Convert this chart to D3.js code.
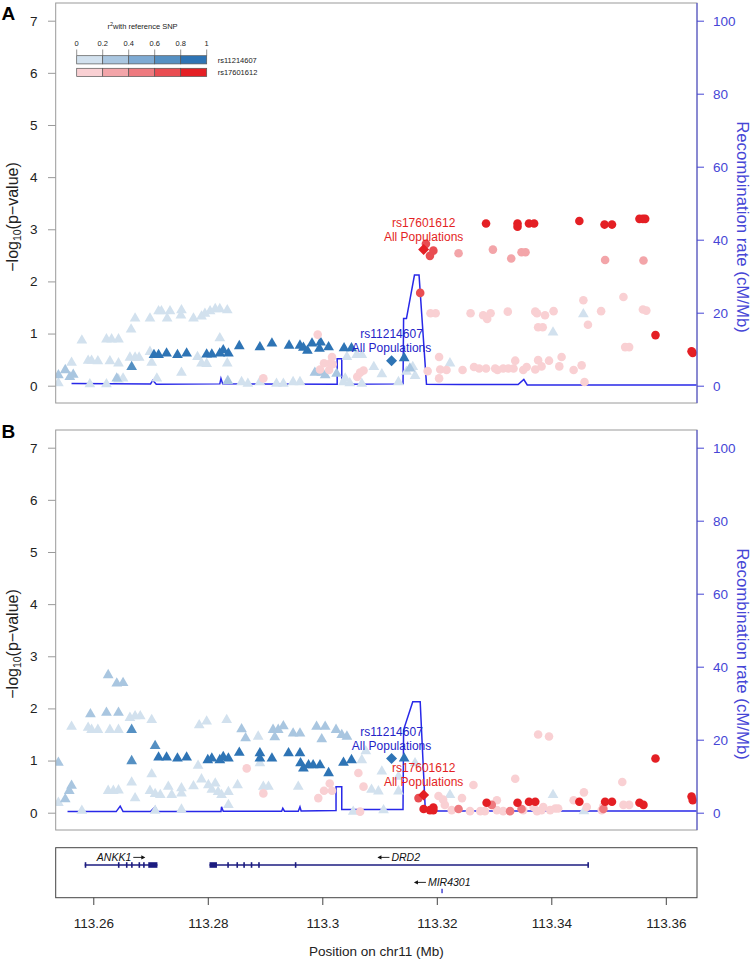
<!DOCTYPE html>
<html><head><meta charset="utf-8">
<script src="https://cdn.jsdelivr.net/npm/d3@7"></script>
<style>body{margin:0;background:#fff}svg{display:block}text{font-family:"Liberation Sans",Arial,Helvetica,sans-serif}</style>
</head><body><svg id="c" width="752" height="960"></svg>
<script>
// ---------- data ----------
const xTicks = [113.26, 113.28, 113.3, 113.32, 113.34, 113.36];
const yTicks = [0, 1, 2, 3, 4, 5, 6, 7];
const recTicks = [0, 20, 40, 60, 80, 100];
const r2Labels = ["0", "0.2", "0.4", "0.6", "0.8", "1"];
const blueShades = ["#d2e1ee", "#a9c6e0", "#7eaad3", "#5590c3", "#2e74b5"];
const redShades = ["#f9d0d3", "#f3a5a9", "#ee7a7f", "#e94d52", "#e41f24"];
const refNames = ["rs11214607", "rs17601612"];
const refPos = [113.3121, 113.3177];
const refValA = [0.48, 2.61];
const refValB = [1.04, 0.34];

// Panel A, rs11214607 (triangles): [position Mb, -log10 p, r2 bin]
const aTri = [
[113.2580,0.87,0],[113.2623,0.89,0],[113.2632,0.89,0],[113.2644,0.89,0],[113.2673,1.29,0],[113.2666,1.08,0],[113.2699,1.29,0],[113.2714,1.43,0],[113.2719,1.43,0],[113.2734,1.43,0],[113.2729,1.29,0],[113.2754,1.45,0],[113.2753,1.35,0],[113.2775,1.29,0],[113.2789,1.33,0],[113.2795,1.38,0],[113.2804,1.43,0],[113.2813,1.47,0],[113.2821,1.47,0],[113.2834,1.45,0],[113.2821,0.91,0],[113.2591,0.48,0],[113.2597,0.48,0],[113.2608,0.47,0],[113.2562,0.44,0],[113.2629,0.47,0],[113.2644,0.43,0],[113.2664,0.54,0],[113.2673,0.54,0],[113.2680,0.54,0],[113.2702,0.44,0],[113.2699,0.65,0],[113.2754,0.25,0],[113.2782,0.55,0],[113.2789,0.43,0],[113.2798,0.42,0],[113.2834,0.43,0],[113.2711,0.14,0],[113.2594,0.03,0],[113.2623,0.03,0],[113.2644,0.12,0],[113.2652,0.14,0],[113.2539,0.05,0],[113.2859,0.07,0],[113.2870,0.04,0],[113.2891,0.07,0],[113.2920,0.04,0],[113.2932,0.04,0],[113.2949,0.07,0],[113.2961,0.07,0],[113.3037,0.07,0],[113.3048,0.05,0],[113.3069,0.04,0],[113.3133,0.07,0],[113.3040,0.14,0],[113.3043,0.55,0],[113.3060,0.59,0],[113.3069,0.59,0],[113.3090,0.36,0],[113.3104,0.22,0],[113.3147,0.27,0],[113.3158,0.36,0],[113.3162,0.19,0],[113.3223,0.43,0],[113.3456,1.37,0],[113.3403,1.02,0],
[113.2551,0.30,1],[113.2559,0.17,1],[113.2565,0.21,1],[113.2641,0.14,1],[113.2835,0.09,1],[113.2987,0.25,1],[113.2999,0.25,1],[113.3005,0.20,1],[113.3025,0.23,1],[113.3153,0.33,1],[113.2539,0.20,1],
[113.2667,0.36,3],
[113.2706,0.59,4],[113.2714,0.59,4],[113.2728,0.62,4],[113.2747,0.59,4],[113.2763,0.62,4],[113.2798,0.60,4],[113.2807,0.60,4],[113.2821,0.62,4],[113.2827,0.68,4],[113.2836,0.62,4],[113.2855,0.76,4],[113.2891,0.74,4],[113.2912,0.81,4],[113.2942,0.77,4],[113.2961,0.77,4],[113.2967,0.73,4],[113.2974,0.67,4],[113.2982,0.81,4],[113.2997,0.83,4],[113.2995,0.71,4],[113.3011,0.74,4],[113.3038,0.72,4],[113.3051,0.72,4],[113.3143,0.53,4]
];
// Panel A, rs17601612 (circles)
const aCir = [
[113.3189,1.39,0],[113.3198,1.39,0],[113.3204,0.55,0],[113.3204,0.14,0],[113.3184,0.28,0],[113.3206,0.31,0],[113.3217,0.30,0],[113.3245,0.30,0],[113.3259,1.39,0],[113.3265,0.36,0],[113.3274,0.33,0],[113.3281,1.35,0],[113.3288,1.28,0],[113.3294,1.39,0],[113.3286,0.33,0],[113.3302,0.33,0],[113.3306,0.30,0],[113.3316,0.33,0],[113.3324,1.42,0],[113.3325,0.33,0],[113.3334,0.33,0],[113.3337,0.48,0],[113.3351,0.30,0],[113.3357,0.36,0],[113.3372,1.42,0],[113.3375,1.39,0],[113.3377,0.49,0],[113.3372,0.31,0],[113.3377,1.12,0],[113.3385,1.12,0],[113.3383,0.37,0],[113.3389,1.35,0],[113.3396,0.48,0],[113.3404,1.43,0],[113.3414,0.37,0],[113.3418,0.55,0],[113.3439,0.30,0],[113.3453,0.39,0],[113.3456,1.64,0],[113.3458,0.07,0],[113.3464,1.17,0],[113.3487,1.43,0],[113.3526,1.70,0],[113.3529,0.74,0],[113.3536,0.74,0],[113.3560,1.46,0],[113.3566,1.44,0],[113.2992,0.98,0],[113.3003,0.43,0],[113.3014,0.43,0],[113.3012,0.30,0],[113.3018,0.41,0],[113.2996,0.31,0],[113.3017,0.55,0],[113.3061,0.17,0],[113.3066,0.25,0],[113.3072,0.29,0],[113.2897,0.14,0],
[113.3238,2.54,1],[113.3298,2.61,1],[113.3330,2.44,1],[113.3348,2.56,1],[113.3355,2.56,1],[113.3494,2.41,1],[113.3561,2.40,1],
[113.3171,1.78,3],[113.3181,2.72,3],[113.3188,2.49,3],[113.3194,2.59,3],
[113.3286,3.11,4],[113.3341,3.11,4],[113.3341,3.05,4],[113.3361,3.11,4],[113.3370,3.11,4],[113.3449,3.16,4],[113.3493,3.09,4],[113.3506,3.09,4],[113.3554,3.20,4],[113.3560,3.20,4],[113.3564,3.20,4],[113.3582,0.97,4],[113.3647,0.63,4],[113.3645,0.66,4]
];
// Panel B, rs11214607 (triangles)
const bTri = [
[113.2664,1.82,0],[113.2673,1.85,0],[113.2682,1.85,0],[113.2702,1.78,0],[113.2562,1.65,0],[113.2591,1.63,0],[113.2597,1.59,0],[113.2608,1.59,0],[113.2629,1.59,0],[113.2644,1.59,0],[113.2785,1.68,0],[113.2798,1.75,0],[113.2833,1.78,0],[113.2783,0.90,0],[113.2702,0.74,0],[113.2667,0.58,0],[113.2789,0.64,0],[113.2539,0.19,0],[113.2626,0.42,0],[113.2635,0.42,0],[113.2644,0.43,0],[113.2673,0.28,0],[113.2699,0.42,0],[113.2708,0.36,0],[113.2717,0.34,0],[113.2731,0.50,0],[113.2737,0.34,0],[113.2754,0.47,0],[113.2754,0.37,0],[113.2775,0.51,0],[113.2801,0.53,0],[113.2807,0.44,0],[113.2813,0.56,0],[113.2818,0.40,0],[113.2824,0.34,0],[113.2836,0.40,0],[113.2852,0.53,0],[113.2580,0.04,0],[113.2708,0.04,0],[113.2754,0.06,0],[113.2836,0.15,0],[113.2888,1.46,0],[113.2891,0.95,0],[113.3076,1.18,0],[113.3104,0.79,0],[113.3069,1.01,0],[113.3133,0.69,0],[113.3162,0.95,0],[113.2958,0.50,0],[113.2897,0.50,0],[113.2906,0.50,0],[113.3086,0.44,0],[113.3098,0.41,0],[113.3133,0.41,0],[113.3054,0.02,0],[113.3107,0.05,0],[113.3223,0.34,0],[113.3403,0.34,0],[113.3457,0.03,0],
[113.2626,2.64,1],[113.2641,2.48,1],[113.2652,2.49,1],[113.2595,1.89,1],[113.2623,1.92,1],[113.2644,1.92,1],[113.2866,1.43,1],[113.2859,1.60,1],[113.2539,0.96,1],[113.2562,0.52,1],[113.2558,0.42,1],[113.2551,0.26,1],[113.2914,1.59,1],[113.2932,1.66,1],[113.2917,1.45,1],[113.2949,1.52,1],[113.2961,1.52,1],[113.2990,1.65,1],[113.3005,1.65,1],[113.2999,1.41,1],[113.3024,1.59,1],[113.3034,1.49,1],[113.3043,1.46,1],[113.2923,1.59,1],
[113.2667,1.59,3],[113.2708,1.28,3],[113.2667,0.99,3],
[113.2714,1.06,4],[113.2728,1.06,4],[113.2747,1.04,4],[113.2763,1.06,4],[113.2800,1.01,4],[113.2807,1.04,4],[113.2821,1.01,4],[113.2827,1.07,4],[113.2836,1.04,4],[113.2855,1.15,4],[113.2891,1.14,4],[113.2891,1.04,4],[113.2912,1.04,4],[113.2941,1.14,4],[113.2961,1.14,4],[113.2962,0.95,4],[113.2967,0.85,4],[113.2976,0.91,4],[113.2984,0.91,4],[113.2996,0.91,4],[113.3011,0.76,4],[113.3037,0.96,4],[113.3051,1.01,4],[113.3143,1.04,4]
];
// Panel B, rs17601612 (circles)
const bCir = [
[113.2868,0.85,0],[113.3063,0.76,0],[113.3072,0.50,0],[113.3013,0.56,0],[113.3003,0.42,0],[113.3017,0.42,0],[113.2993,0.28,0],[113.2897,0.37,0],[113.3066,0.02,0],[113.3203,0.32,0],[113.3214,0.15,0],[113.3211,0.25,0],[113.3377,1.50,0],[113.3396,1.46,0],[113.3337,0.65,0],[113.3264,0.53,0],[113.3524,0.59,0],[113.3457,0.39,0],[113.3439,0.24,0],[113.3244,0.28,0],[113.3305,0.24,0],[113.3386,0.11,0],[113.3407,0.08,0],[113.3462,0.11,0],[113.3526,0.15,0],[113.3536,0.15,0],[113.3258,0.03,0],[113.3276,0.03,0],[113.3284,0.03,0],[113.3305,0.05,0],[113.3316,0.03,0],[113.3351,0.05,0],[113.3369,0.11,0],[113.3375,0.03,0],[113.3383,0.05,0],[113.3398,0.05,0],[113.3412,0.08,0],[113.3488,0.05,0],[113.3491,0.13,0],[113.3226,0.05,0],
[113.3238,0.07,2],[113.3296,0.15,2],[113.3328,0.03,2],[113.3348,0.07,2],[113.3491,0.07,2],
[113.3168,0.28,3],
[113.3287,0.19,4],[113.3341,0.19,4],[113.3361,0.21,4],[113.3372,0.21,4],[113.3449,0.21,4],[113.3494,0.21,4],[113.3506,0.21,4],[113.3554,0.19,4],[113.3561,0.15,4],[113.3582,1.04,4],[113.3645,0.31,4],[113.3647,0.24,4],[113.3177,0.07,4],[113.3188,0.05,4],[113.3194,0.10,4],[113.3194,0.05,4]
];
// Recombination rate (cM/Mb)
const recA = [[113.2562,0.6],[113.2700,0.5],[113.2704,1.5],[113.2710,0.4],[113.2821,0.5],[113.2823,2.0],[113.2826,0.5],[113.3026,0.4],[113.3026,7.4],[113.3034,7.4],[113.3034,0.4],[113.3141,0.5],[113.3142,18.4],[113.3147,18.4],[113.3161,30.3],[113.3169,30.3],[113.3182,0.4],[113.3240,0.3],[113.3342,0.3],[113.3352,1.7],[113.3358,0.2],[113.3654,0.2]];
const recB = [[113.2555,0.3],[113.2640,0.3],[113.2647,1.8],[113.2652,0.3],[113.2700,0.3],[113.2708,1.6],[113.2712,0.3],[113.2823,0.3],[113.2824,1.6],[113.2827,0.4],[113.2929,0.4],[113.2931,1.2],[113.2934,0.4],[113.2958,0.4],[113.2961,1.6],[113.2963,0.5],[113.3024,0.6],[113.3024,7.1],[113.3034,7.1],[113.3034,0.9],[113.3141,0.9],[113.3142,22.7],[113.3158,30.4],[113.3171,30.4],[113.3180,0.5],[113.3654,0.5]];
// Genes
const geneNames = ["ANKK1", "DRD2", "MIR4301"];
const geneStart = [113.2585, 113.2803, 113.3209];
const geneEnd = [113.2712, 113.3464, 113.3210];
const geneStrand = ["+", "-", "-"];
const geneRow = [0, 0, 1];
const geneExons = [
  [[113.2585,113.2586],[113.2643,113.2645],[113.2657,113.2659],[113.2666,113.2668],[113.2679,113.2680],[113.2687,113.2688],[113.2696,113.2712]],
  [[113.2803,113.2816],[113.2834,113.2836],[113.2850,113.2851],[113.2862,113.2863],[113.2875,113.2876],[113.2888,113.2889],[113.2952,113.2954],[113.3463,113.3464]],
  [[113.3209,113.3210]]
];

// ---------- drawing ----------
const svg = d3.select("#c");
const X0 = 55.7, X1 = 697;
const x = d3.scaleLinear().domain([113.253433, 113.36545]).range([X0, X1]);
const AXIS_BLUE = "#4646d6", REC_BLUE = "#2828e8", BOX = "#9a9a9a";
const defs = svg.append("defs");

function diamond(cx, cy, r) {
  return `M${cx},${cy - r}L${cx + r},${cy}L${cx},${cy + r}L${cx - r},${cy}Z`;
}

function panel(top, tri, cir, refVals, rec, letter, legend) {
  const H = 400;
  const y = d3.scaleLinear().domain([0, 7]).range([top + 382.7, top + 17.7]);
  const yr = d3.scaleLinear().domain([0, 100]).range([top + 382.7, top + 17.7]);
  const g = svg.append("g");
  defs.append("clipPath").attr("id", "clip" + letter).append("rect")
    .attr("x", X0).attr("y", top).attr("width", X1 - X0).attr("height", H);
  const pg = g.append("g").attr("clip-path", `url(#clip${letter})`);

  // recombination line
  pg.append("path").datum(rec)
    .attr("d", d3.line().x(d => x(d[0])).y(d => yr(d[1])))
    .attr("fill", "none").attr("stroke", REC_BLUE).attr("stroke-width", 1.5);

  // triangles
  const triSym = d3.symbol().type(d3.symbolTriangle).size(50);
  const sortedTri = tri.slice().sort((a, b) => a[2] - b[2]);
  pg.selectAll(null).data(sortedTri).enter().append("path")
    .attr("d", triSym)
    .attr("transform", d => `translate(${x(d[0])},${y(d[1])})`)
    .attr("fill", d => blueShades[d[2]]);
  // circles
  const sortedCir = cir.slice().sort((a, b) => a[2] - b[2]);
  pg.selectAll(null).data(sortedCir).enter().append("circle")
    .attr("cx", d => x(d[0])).attr("cy", d => y(d[1])).attr("r", 4.3)
    .attr("fill", d => redShades[d[2]]);

  // reference SNPs
  const refColors = [blueShades[4], redShades[4]];
  const refText = ["#2424c8", "#e41f24"];
  refPos.forEach((p, i) => {
    const cx = x(p), cy = y(refVals[i]);
    pg.append("path").attr("d", diamond(cx, cy, 5.5)).attr("fill", refColors[i]);
    const t = g.append("text").attr("text-anchor", "middle").attr("font-size", 12).attr("fill", refText[i]);
    t.append("tspan").attr("x", cx).attr("y", cy - 22.7).text(refNames[i]);
    t.append("tspan").attr("x", cx).attr("y", cy - 8.7).text("All Populations");
  });

  // box
  g.append("rect").attr("x", X0).attr("y", top).attr("width", X1 - X0).attr("height", H)
    .attr("fill", "none").attr("stroke", BOX).attr("stroke-width", 1);

  // left axis
  const la = g.append("g").attr("transform", `translate(${X0},0)`)
    .call(d3.axisLeft(y).tickValues(yTicks).tickFormat(d3.format("d")).tickSize(7.7).tickPadding(10.5));
  la.select(".domain").remove();
  la.selectAll("line").attr("stroke", BOX);
  la.selectAll("text").attr("font-size", 13.5).attr("fill", "#222").attr("font-family", "Liberation Sans, Arial, sans-serif");

  // right axis
  g.append("line").attr("x1", X1).attr("x2", X1).attr("y1", top).attr("y2", top + H)
    .attr("stroke", AXIS_BLUE).attr("stroke-width", 1);
  const ra = g.append("g").attr("transform", `translate(${X1},0)`)
    .call(d3.axisRight(yr).tickValues(recTicks).tickFormat(d3.format("d")).tickSize(7).tickPadding(9));
  ra.select(".domain").remove();
  ra.selectAll("line").attr("stroke", AXIS_BLUE);
  ra.selectAll("text").attr("font-size", 13.5).attr("fill", AXIS_BLUE).attr("font-family", "Liberation Sans, Arial, sans-serif");

  // axis titles
  const lt = g.append("text").attr("transform", `translate(18,${top + 214}) rotate(-90)`)
    .attr("text-anchor", "middle").attr("font-size", 16).attr("fill", "#222");
  lt.append("tspan").text("\u2212log");
  lt.append("tspan").attr("font-size", 10.5).attr("baseline-shift", "-25%").text("10");
  lt.append("tspan").text("(p\u2212value)");
  g.append("text").attr("transform", `translate(736.5,${top + 224}) rotate(90)`)
    .attr("text-anchor", "middle").attr("font-size", 16.8).attr("fill", AXIS_BLUE)
    .text("Recombination rate (cM/Mb)");

  // panel letter
  g.append("text").attr("x", 1.5).attr("y", letter === "A" ? 20 : top + 8)
    .attr("font-size", 19).attr("font-weight", "bold").attr("fill", "#000").text(letter);

  if (legend) {
    const lx = 76.7, sw = 26, lg = g.append("g");
    const tt = lg.append("text").attr("x", 142.5).attr("y", 28.5).attr("text-anchor", "middle")
      .attr("font-size", 7.5).attr("fill", "#222");
    tt.append("tspan").text("r");
    tt.append("tspan").attr("font-size", 5.5).attr("baseline-shift", "super").text("2");
    tt.append("tspan").text("with reference SNP");
    r2Labels.forEach((l, i) => {
      lg.append("text").attr("x", lx + i * sw).attr("y", 45.5).attr("text-anchor", "middle")
        .attr("font-size", 7.5).attr("fill", "#222").text(l);
      lg.append("line").attr("x1", lx + i * sw).attr("x2", lx + i * sw).attr("y1", 49.5).attr("y2", 55.7)
        .attr("stroke", "#666").attr("stroke-width", 0.7);
    });
    [blueShades, redShades].forEach((shades, r) => {
      const yy = r === 0 ? 55.7 : 68.3;
      shades.forEach((c, i) => {
        lg.append("rect").attr("x", lx + i * sw).attr("y", yy).attr("width", sw).attr("height", 8.2)
          .attr("fill", c).attr("stroke", "#555").attr("stroke-width", 0.7);
      });
      lg.append("text").attr("x", 217.7).attr("y", yy + 6.8).attr("font-size", 7.5).attr("fill", "#222")
        .text(refNames[r]);
    });
  }
}

panel(3, aTri, aCir, refValA, recA, "A", true);
panel(430, bTri, bCir, refValB, recB, "B", false);

// ---------- gene track ----------
const GT = 847.7, GB = 897.7;
const gt = svg.append("g");
gt.append("rect").attr("x", X0).attr("y", GT).attr("width", X1 - X0).attr("height", GB - GT)
  .attr("fill", "none").attr("stroke", "#444").attr("stroke-width", 1);
const NAVY = "#1c1c80";
const rowY = [865, 891];
geneNames.forEach((name, i) => {
  const yy = rowY[geneRow[i]];
  const x1 = x(geneStart[i]), x2 = x(geneEnd[i]);
  if (geneRow[i] === 0) {
    gt.append("line").attr("x1", x1).attr("x2", x2).attr("y1", yy).attr("y2", yy)
      .attr("stroke", NAVY).attr("stroke-width", 1.3);
    geneExons[i].forEach(e => {
      const ex1 = x(e[0]), ex2 = Math.max(x(e[1]), ex1 + 1.6);
      gt.append("rect").attr("x", ex1).attr("y", yy - 2.8).attr("width", ex2 - ex1).attr("height", 5.6).attr("fill", NAVY);
    });
  } else {
    gt.append("rect").attr("x", x1 - 0.6).attr("y", yy - 2.2).attr("width", 1.4).attr("height", 4.4).attr("fill", "#3a3ad0");
  }
  // label centred on gene
  const cx = (x1 + x2) / 2, ly = geneRow[i] === 0 ? 861 : 886;
  const t = gt.append("text").attr("font-size", 10.5).attr("font-style", "italic").attr("fill", "#111").text(name);
  const w = t.node().getComputedTextLength();
  const aw = 12, gap = 2, total = w + gap + aw;
  const left = cx - total / 2;
  const ay = ly - 3.6;
  if (geneStrand[i] === "+") {
    t.attr("x", left).attr("y", ly);
    const ax1 = left + w + gap, ax2 = ax1 + aw;
    gt.append("line").attr("x1", ax1).attr("x2", ax2 - 1).attr("y1", ay).attr("y2", ay).attr("stroke", "#111").attr("stroke-width", 0.9);
    gt.append("path").attr("d", `M${ax2},${ay}L${ax2 - 4},${ay - 2.2}L${ax2 - 4},${ay + 2.2}Z`).attr("fill", "#111");
  } else {
    t.attr("x", left + aw + gap).attr("y", ly);
    const ax1 = left, ax2 = left + aw;
    gt.append("line").attr("x1", ax1 + 1).attr("x2", ax2).attr("y1", ay).attr("y2", ay).attr("stroke", "#111").attr("stroke-width", 0.9);
    gt.append("path").attr("d", `M${ax1},${ay}L${ax1 + 4},${ay - 2.2}L${ax1 + 4},${ay + 2.2}Z`).attr("fill", "#111");
  }
});

// x axis
const xa = svg.append("g").attr("transform", `translate(0,${GB})`)
  .call(d3.axisBottom(x).tickValues(xTicks).tickFormat(d => String(+d.toFixed(2))).tickSize(7.3).tickPadding(13.4));
xa.select(".domain").remove();
xa.selectAll("line").attr("stroke", "#444");
xa.selectAll("text").attr("font-size", 13.5).attr("fill", "#222").attr("font-family", "Liberation Sans, Arial, sans-serif");
svg.append("text").attr("x", (X0 + X1) / 2).attr("y", 956).attr("text-anchor", "middle")
  .attr("font-size", 13.5).attr("fill", "#222").text("Position on chr11 (Mb)");
</script></body></html>
